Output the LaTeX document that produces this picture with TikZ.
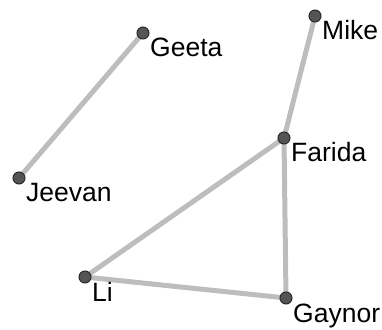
\documentclass[tikz,border=0pt]{standalone}
\usepackage{fontspec}
\setmainfont{Liberation Sans}
\definecolor{edgegray}{HTML}{BDBDBD}
\definecolor{dotfill}{HTML}{555555}
\definecolor{dotline}{HTML}{2A2A2A}
\begin{document}
\begin{tikzpicture}[x=1pt,y=1pt,
  vert/.style={circle,fill=dotfill,draw=dotline,line width=1pt,minimum size=12pt,inner sep=0pt},
  lbl/.style={anchor=base west,inner sep=0pt,font=\fontsize{26.5}{26.5}\selectfont},
  edge/.style={draw=edgegray,line width=5pt}]
\useasboundingbox (0,0) rectangle (382,329);
\coordinate (geeta) at (143,296);
\coordinate (mike) at (315,313);
\coordinate (farida) at (284,191);
\coordinate (jeevan) at (19,151);
\coordinate (li) at (85,52);
\coordinate (gaynor) at (286,31);
\draw[edge] (geeta) -- (jeevan);
\draw[edge] (mike) -- (farida);
\draw[edge] (farida) -- (li);
\draw[edge] (farida) -- (gaynor);
\draw[edge] (li) -- (gaynor);
\foreach \n/\t in {geeta/Geeta,mike/Mike,farida/Farida,jeevan/Jeevan,li/Li,gaynor/Gaynor}{
  \node[vert] (\n v) at (\n) {};
  \node[lbl] (\n l) at ([xshift=7pt,yshift=-24pt]\n) {\t};
}
\end{tikzpicture}
\end{document}
